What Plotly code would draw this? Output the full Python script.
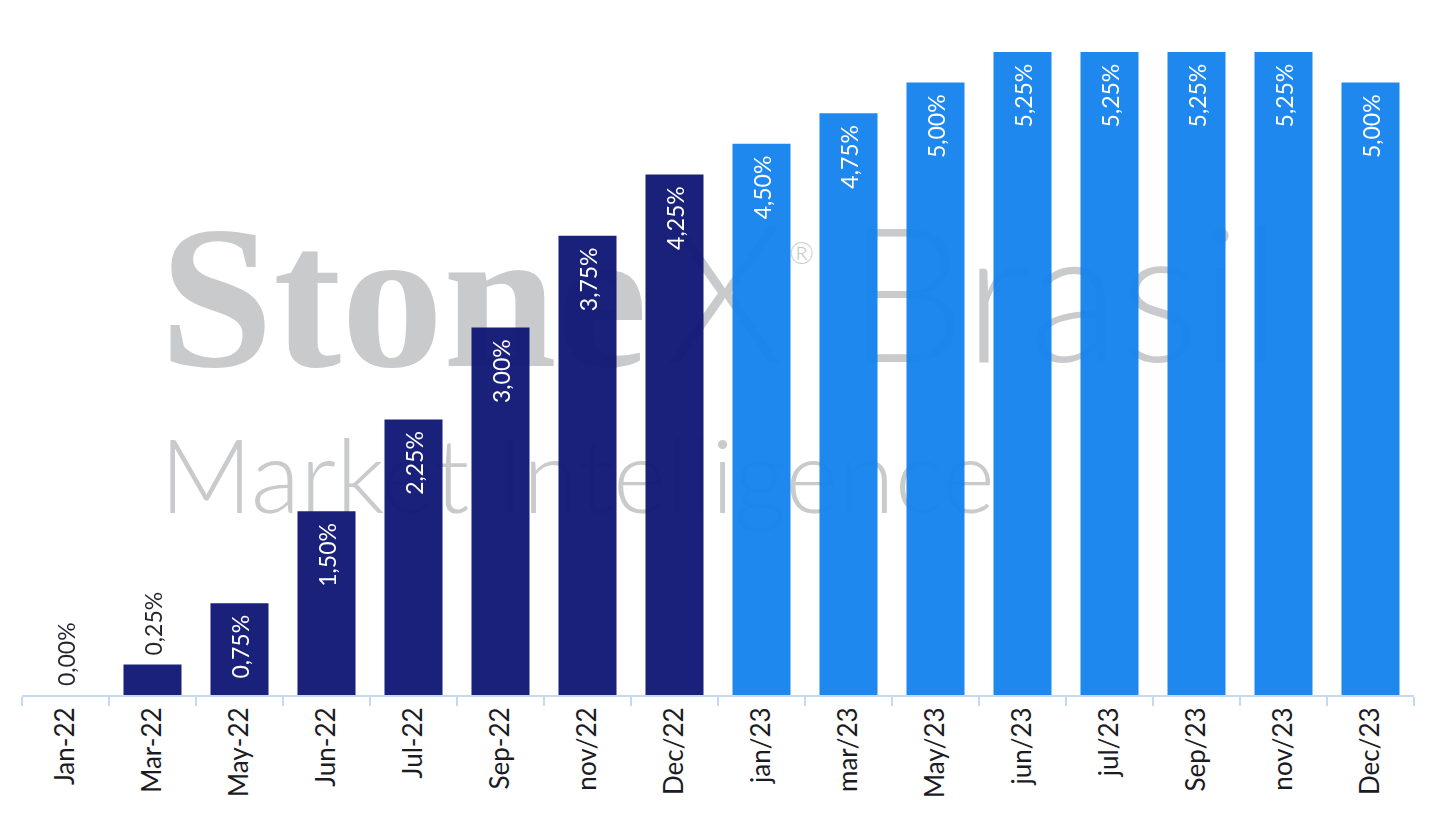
import plotly.graph_objects as go

categories = ["Jan-22", "Mar-22", "May-22", "Jun-22", "Jul-22", "Sep-22", "nov/22", "Dec/22",
              "jan/23", "mar/23", "May/23", "jun/23", "jul/23", "Sep/23", "nov/23", "Dec/23"]
rates = [0.00, 0.25, 0.75, 1.50, 2.25, 3.00, 3.75, 4.25,
         4.50, 4.75, 5.00, 5.25, 5.25, 5.25, 5.25, 5.00]
years = ["2022"] * 8 + ["2023"] * 8
year_colors = {"2022": "#0f1774", "2023": "#1583ef"}

labels = ["\u00a0" + f"{v:.2f}%".replace(".", ",") + "\u00a0\u2009" for v in rates]
positions = ["outside" if v < 0.5 else "inside" for v in rates]
colors = [year_colors[y] for y in years]

# watermark pieces
wm_text = ["Stone", "X", "®", "Brasil", "Market Intelligence"]
wm_x = [0.099, 0.462, 0.551, 0.593, 0.099]
wm_y = [0.591, 0.591, 0.682, 0.591, 0.323]
wm_size = [204, 192, 30, 188, 102]
wm_font = ["Liberation Serif", "Lato", "Lato", "Lato", "Lato"]
wm_weight = [700, 300, 300, 300, 300]

fig = go.Figure()

for t, x, y, s, f, w in zip(wm_text, wm_x, wm_y, wm_size, wm_font, wm_weight):
    fig.add_trace(go.Scatter(
        x=[x], y=[y], mode="text", text=[t], textposition="middle right",
        textfont=dict(size=s, family=f, color="#c9cacc", weight=w),
        hoverinfo="skip", showlegend=False, xaxis="x", yaxis="y",
    ))

fig.add_trace(go.Bar(
    x=categories, y=rates, text=labels, textposition=positions,
    textangle=-90, insidetextanchor="end", constraintext="none",
    insidetextfont=dict(color="white", size=23, family="Lato"),
    outsidetextfont=dict(color="#1b1b24", size=23, family="Lato"),
    marker=dict(color=colors, line=dict(width=0)), opacity=0.96,
    cliponaxis=False, showlegend=False, xaxis="x2", yaxis="y2",
))

fig.update_layout(
    width=1437, height=816,
    margin=dict(l=14, r=31, t=44, b=129),
    paper_bgcolor="white", plot_bgcolor="white",
    bargap=0.333,
    xaxis=dict(range=[0, 1], visible=False, fixedrange=True),
    yaxis=dict(range=[0, 1], visible=False, fixedrange=True),
    xaxis2=dict(overlaying="x", type="category", tickangle=-90,
                tickson="boundaries", ticks="outside", ticklen=9, tickwidth=2,
                tickcolor="#c5d9f3", showline=True, linecolor="#c5d9f3", linewidth=2,
                showgrid=False, tickfont=dict(size=26, family="Lato", color="#1b1b24"),
                anchor="y2", automargin=False),
    yaxis2=dict(overlaying="y", range=[0, 5.25], visible=False, showgrid=False,
                zeroline=False, anchor="x2"),
)

fig.write_html("out.html")
